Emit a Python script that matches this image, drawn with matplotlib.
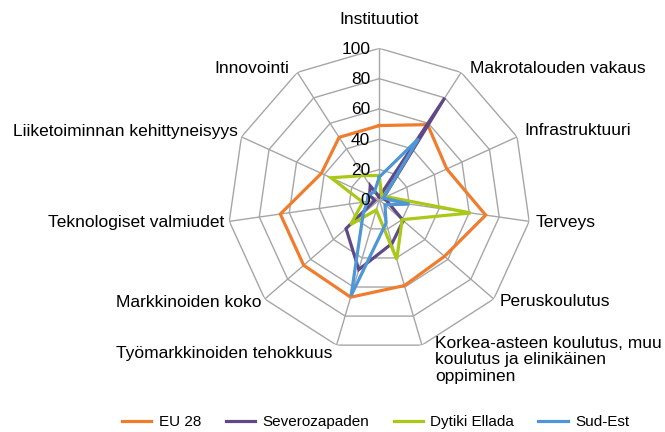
import matplotlib.pyplot as plt
import numpy as np

plt.rcParams['font.family'] = ['Liberation Sans', 'DejaVu Sans']

# Categories (clockwise from top)
categories = ['Instituutiot', 'Makrotalouden vakaus', 'Infrastruktuuri', 'Terveys',
              'Peruskoulutus',
              'Korkea-asteen koulutus, muu\nkoulutus ja elinikäinen\noppiminen',
              'Työmarkkinoiden tehokkuus', 'Markkinoiden koko',
              'Teknologiset valmiudet', 'Liiketoiminnan kehittyneisyys', 'Innovointi']

# Scores per region
eu28 = [49, 59, 49, 71, 57, 59, 67, 66, 66, 42, 49]
severozapaden = [2, 80, 3, 5, 21, 30, 48, 29, 3, 7, 11]
dytiki_ellada = [16, 3, 5, 61, 20, 41, 7, 25, 11, 35, 19]
sud_est = [15, 48, 3, 20, 5, 16, 66, 14, 8, 8, 6]

series_names = ['EU 28', 'Severozapaden', 'Dytiki Ellada', 'Sud-Est']
levels = [20, 40, 60, 80, 100]
level_labels = ['0', '20', '40', '60', '80', '100']

colors = ['#F07D2E', '#5E4886', '#A9C916', '#4F96D6']
grid_color = '#A6A6A6'

n = len(categories)
angles = np.arange(n) * 2 * np.pi / n
closed = np.append(angles, angles[0])

fig = plt.figure(figsize=(6.65, 4.32), dpi=100)
ax = fig.add_axes([0.3425, 0.1868, 0.4556, 0.7014], projection='polar')
ax.set_theta_offset(np.pi / 2)
ax.set_theta_direction(-1)
ax.set_ylim(0, 100)
ax.grid(False)
ax.set_xticks([])
ax.set_yticks([])
ax.spines['polar'].set_visible(False)

# polygon grid
for r in levels:
    ax.plot(closed, [r] * (n + 1), color=grid_color, lw=1, zorder=1)
for a in angles:
    ax.plot([a, a], [0, 100], color=grid_color, lw=1, zorder=1)

# data
for vals, name, c in zip([eu28, severozapaden, dytiki_ellada, sud_est], series_names, colors):
    ax.plot(closed, vals + vals[:1], color=c, lw=2.3, label=name, zorder=3,
            solid_joinstyle='miter')

# radial tick labels
for r, lab in zip([0] + levels, level_labels):
    ax.annotate(lab, xy=(0, r), xytext=(-9, -1), textcoords='offset pixels',
                ha='right', va='center', fontsize=12.5, annotation_clip=False, zorder=4)

# category labels: offset in pixels, alignment
label_pos = [
    ((0, 29), 'center', 'center'),
    ((9, 4), 'left', 'center'),
    ((7, 6), 'left', 'center'),
    ((6, -1), 'left', 'center'),
    ((6, -2), 'left', 'center'),
    ((13, 9), 'left', 'top'),
    ((-4, -8), 'right', 'center'),
    ((-3, -3), 'right', 'center'),
    ((-5, -1), 'right', 'center'),
    ((-4, 5), 'right', 'center'),
    ((-8, 4), 'right', 'center'),
]
for a, cat, (off, ha, va) in zip(angles, categories, label_pos):
    ax.annotate(cat, xy=(a, 100), xytext=off, textcoords='offset pixels',
                ha=ha, va=va, fontsize=12.5, annotation_clip=False, linespacing=1.1)

fig.legend(loc='lower center', bbox_to_anchor=(0.565, -0.025), ncol=4, frameon=False,
           fontsize=11, handlelength=1.9, handletextpad=0.5, columnspacing=1.6)

plt.savefig('out.png', dpi=100)
